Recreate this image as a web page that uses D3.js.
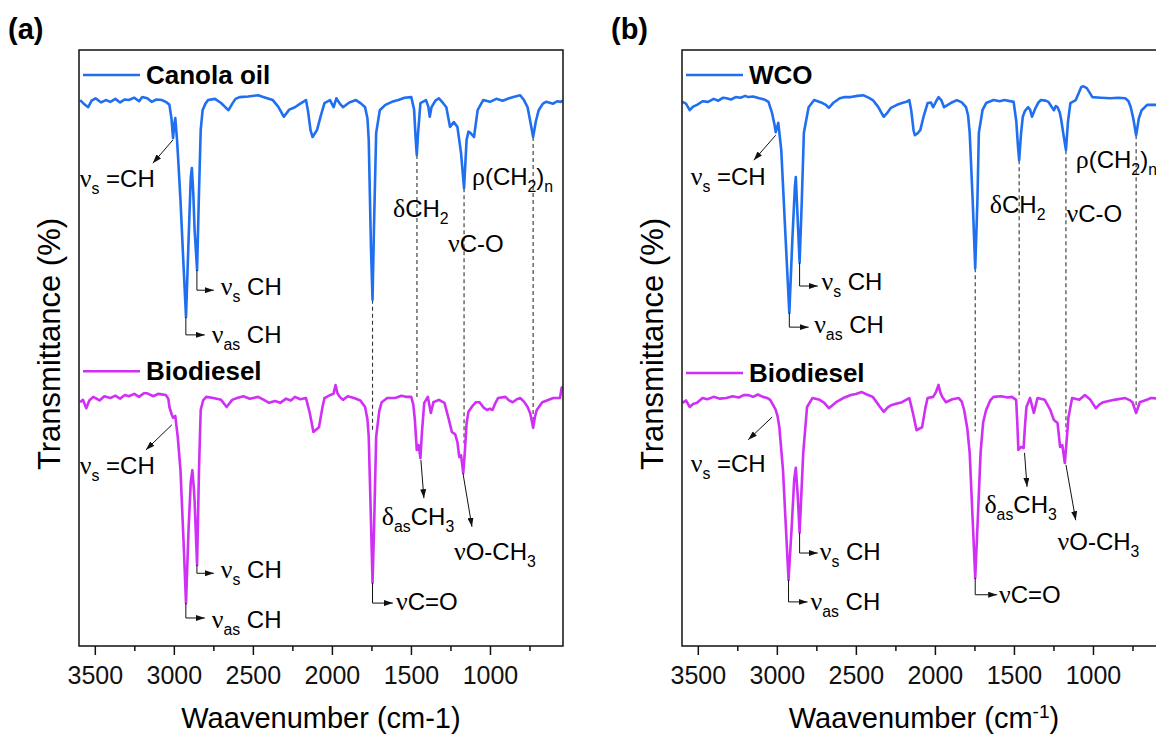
<!DOCTYPE html>
<html>
<head>
<meta charset="utf-8">
<script src="https://cdn.jsdelivr.net/npm/d3@7"></script>
<style>
  body { margin: 0; background: #fff; }
  svg { display: block; font-family: "Liberation Sans", Arial, sans-serif; }
</style>
</head>
<body>
<svg id="chart" width="1156" height="736"></svg>
<script>
// spectra: [wavenumber cm-1, stacked transmittance (arb.)]
const canolaOil = [[3593,91.6],[3570,91.0],[3542,90.4],[3520,91.5],[3495,91.9],[3460,91.2],[3430,91.6],[3402,91.3],[3370,91.8],[3340,91.2],[3310,91.7],[3285,91.6],[3250,92.0],[3220,91.4],[3200,92.1],[3168,91.9],[3140,91.3],[3110,91.7],[3075,91.6],[3045,91.2],[3028,90.8],[3015,88.5],[3005,85.2],[2997,87.5],[2991,88.6],[2980,85],[2970,80.5],[2958,74.8],[2939,64],[2923,55.2],[2907,68],[2893,78.5],[2886,80.2],[2877,76],[2869,70],[2853,63.1],[2841,76],[2830,86.6],[2818,89.9],[2800,91.0],[2783,91.6],[2740,91.8],[2701,91.1],[2670,90.3],[2654,89.9],[2630,91.0],[2610,91.8],[2584,92.1],[2530,92.2],[2467,92.4],[2420,92.0],[2374,91.6],[2340,90.5],[2304,88.8],[2270,90.0],[2234,90.4],[2200,91.0],[2164,91.6],[2152,89.9],[2135,86.5],[2122,85.4],[2094,86.6],[2070,89.0],[2047,91.1],[2012,91.6],[1989,90.4],[1972,91.9],[1950,91.0],[1930,90.4],[1890,91.2],[1848,91.6],[1815,91.0],[1790,90.4],[1775,88.5],[1767,84.9],[1753,67],[1743,58.1],[1734,70],[1720,86.1],[1697,89.9],[1662,90.8],[1620,91.3],[1580,91.6],[1540,92.0],[1498,92.1],[1480,90],[1470,85],[1463,82.4],[1455,86],[1440,91.1],[1405,91.6],[1390,90.5],[1381,88.8],[1370,90.4],[1345,91.5],[1323,91.9],[1300,91.2],[1276,90.4],[1253,87.1],[1229,87.9],[1206,87.1],[1183,82.7],[1164,76.8],[1148,84.9],[1136,86.3],[1124,86.1],[1101,85.4],[1078,89.9],[1043,91.6],[1000,91.3],[960,91.8],[920,91.5],[879,91.9],[840,92.2],[809,92.4],[785,91.6],[762,90.4],[745,88],[727,85.4],[710,88],[692,89.9],[665,91.0],[645,91.3],[600,91.0],[575,91.4],[552,91.3],[540,91.5]];

const biodieselA = [[3593,40.9],[3575,41.3],[3554,39.9],[3535,41.2],[3510,41.8],[3495,41.6],[3470,41.2],[3440,41.9],[3402,41.6],[3370,42.0],[3340,41.5],[3310,42.1],[3285,41.9],[3250,42.3],[3220,41.8],[3190,42.4],[3168,42.4],[3130,41.9],[3100,42.3],[3051,42.1],[3035,41.5],[3028,40.1],[3013,38.8],[3005,38.3],[2991,38.6],[2975,35],[2958,29.5],[2939,17.8],[2923,7.2],[2907,19.5],[2893,27.5],[2883,29.5],[2875,27],[2869,24.5],[2853,13.6],[2841,29.5],[2830,39.6],[2815,41.2],[2795,41.8],[2750,41.6],[2701,41.3],[2666,40.1],[2631,41.3],[2600,41.6],[2560,41.9],[2520,41.5],[2467,41.8],[2430,41.3],[2397,40.8],[2360,41.1],[2327,40.8],[2290,41.5],[2260,41.2],[2234,41.8],[2200,41.4],[2164,41.6],[2140,39.1],[2117,35.9],[2100,36.3],[2082,36.7],[2060,40],[2047,41.6],[2012,42.1],[1990,42.3],[1977,43.8],[1965,42.4],[1950,41.8],[1930,41.3],[1900,41.9],[1860,41.6],[1820,41.2],[1790,40.1],[1775,38],[1767,35.1],[1753,21.1],[1743,10.6],[1734,19.0],[1720,35.1],[1700,39.5],[1685,40.9],[1650,41.6],[1600,41.6],[1560,42.0],[1533,41.8],[1498,41.8],[1485,40.5],[1475,37.9],[1463,32.9],[1451,33.7],[1440,31.5],[1430,36],[1416,40.8],[1393,41.8],[1374,39.1],[1358,40.9],[1323,41.3],[1288,40.8],[1264,38.4],[1241,35.9],[1220,35.5],[1206,34.2],[1194,31.7],[1183,32.0],[1169,29.0],[1158,33],[1148,37.4],[1136,39.3],[1110,40.3],[1089,40.9],[1066,40.9],[1040,40.0],[1019,39.6],[1000,39.8],[984,39.6],[965,40.8],[949,41.6],[902,41.8],[880,41.2],[856,40.9],[830,41.4],[809,41.6],[785,41.0],[762,40.1],[745,39],[727,36.6],[715,38.5],[704,39.6],[669,40.9],[640,41.2],[599,41.6],[557,41.6],[547,43.3],[540,43.5]];

const wcoOil = [[3597,91.3],[3575,91.0],[3551,89.9],[3530,90.5],[3505,90.8],[3470,91.4],[3435,91.3],[3400,91.8],[3370,91.5],[3340,92.0],[3319,91.9],[3290,91.7],[3260,92.1],[3230,92.0],[3200,92.3],[3181,92.1],[3150,92.2],[3111,91.9],[3080,91.7],[3053,91.3],[3030,89.4],[3015,87.5],[3007,86.2],[2991,87.8],[2972,83.2],[2944,68.1],[2921,55.9],[2902,68.1],[2886,77],[2880,78.7],[2868,71.5],[2856,64.3],[2842,74.8],[2829,86.1],[2799,90.4],[2764,91.6],[2720,91.2],[2690,90.8],[2671,90.3],[2640,91.2],[2602,91.9],[2570,92.1],[2532,92.1],[2490,92.3],[2451,92.4],[2420,92.0],[2393,91.6],[2360,90.5],[2324,88.8],[2300,89.5],[2278,90.3],[2240,90.8],[2208,91.1],[2180,91.3],[2162,91.6],[2150,89.9],[2135,86.5],[2127,85.7],[2110,86.0],[2092,86.6],[2070,89],[2046,91.1],[2025,91.2],[2011,90.4],[1990,91.5],[1977,92.1],[1960,91.6],[1942,90.4],[1900,91.1],[1861,91.6],[1830,91.2],[1803,90.4],[1790,89],[1780,86.1],[1761,74.8],[1745,63.4],[1731,74.8],[1722,86.1],[1699,89.9],[1676,91.1],[1629,91.6],[1590,91.4],[1560,91.6],[1502,91.3],[1485,88],[1475,84],[1467,81.5],[1455,86],[1444,88.8],[1430,89.8],[1410,90.4],[1398,90],[1386,88.8],[1363,90.3],[1345,91.2],[1329,91.6],[1300,91.5],[1282,91.3],[1265,90.6],[1247,89.9],[1235,90.6],[1224,90.4],[1210,89.5],[1201,88.3],[1185,85.5],[1171,83.2],[1158,88],[1143,91.1],[1109,91.6],[1090,92.8],[1074,93.8],[1060,93.9],[1039,93.6],[1020,92.8],[1004,92.1],[950,92.0],[889,91.9],[840,92.0],[796,91.9],[775,91.4],[761,90.4],[745,88.5],[727,85.7],[710,88.5],[692,89.9],[657,90.8],[616,90.8],[580,90.8],[540,91.0]];

const biodieselB = [[3597,40.8],[3575,41.2],[3551,40.1],[3530,40.6],[3505,40.8],[3470,41.6],[3440,41.4],[3400,41.8],[3360,41.5],[3319,41.6],[3280,41.9],[3240,41.7],[3210,42.1],[3181,42.1],[3150,41.8],[3120,42.2],[3088,41.8],[3060,41.6],[3042,41.3],[3025,40.5],[3007,39.6],[2995,38.5],[2984,36.7],[2961,29.5],[2942,19.5],[2926,11.1],[2907,19.5],[2890,28],[2880,29.9],[2868,25.3],[2856,19.0],[2833,32.4],[2809,40.1],[2775,41.6],[2729,41.3],[2700,40.8],[2671,39.9],[2625,40.9],[2580,41.6],[2532,42.1],[2500,42.3],[2463,42.6],[2430,42.2],[2393,41.8],[2347,40.1],[2324,39.3],[2300,40.0],[2278,40.4],[2240,40.7],[2208,40.9],[2162,41.6],[2139,39.1],[2116,36.2],[2095,36.5],[2081,36.7],[2060,40],[2046,41.6],[2011,41.8],[1995,42.5],[1977,43.8],[1965,42.5],[1954,41.8],[1930,40.9],[1890,41.4],[1849,41.6],[1830,41.0],[1815,39.6],[1795,36.5],[1780,32.4],[1761,21.1],[1745,11.4],[1729,21.1],[1711,32.4],[1695,37.5],[1676,39.6],[1650,41.2],[1629,41.8],[1580,41.9],[1540,41.7],[1513,41.8],[1486,41.3],[1478,37],[1472,32.9],[1455,33.4],[1439,33.2],[1430,37],[1421,40.1],[1398,41.6],[1374,39.1],[1351,41.6],[1305,41.3],[1270,39.6],[1247,37.9],[1224,37.4],[1208,33.4],[1194,33.7],[1178,30.7],[1165,35],[1155,38.4],[1132,41.6],[1086,41.3],[1051,42.1],[1016,41.3],[982,39.9],[960,40.5],[935,40.9],[866,41.3],[796,41.6],[765,41.2],[750,40.9],[727,39.1],[704,40.9],[660,41.3],[634,41.6],[580,41.5],[540,41.7]];

const xTicks = [3500, 3000, 2500, 2000, 1500, 1000];
const xMinorTicks = [3250, 2750, 2250, 1750, 1250, 750];
const xDomain = [3600, 538];

const BLUE = '#1f6ff0';
const MAGENTA = '#d02ff5';

// peak labels, arrows and guide lines, placed in data units
const panels = [
  {
    tag: '(a)', left: 79, xTitle: 'Waavenumber (cm-1)',
    series: [
      { name: 'Canola oil', data: canolaOil, color: BLUE, legendV: 95.8 },
      { name: 'Biodiesel', data: biodieselA, color: MAGENTA, legendV: 46.1 }
    ],
    labels: [
      ['ν_{s} =CH', 3595, 77.0], ['ν_{s} CH', 2703, 58.9], ['ν_{as} CH', 2760, 50.8],
      ['δCH_{2}', 1614, 72.0], ['νC-O', 1266, 66.1], ['ρ(CH_{2})_{n}', 1114, 77.3],
      ['ν_{s} =CH', 3595, 28.9], ['δ_{as}CH_{3}', 1684, 20.3], ['νO-CH_{3}', 1228, 14.4],
      ['ν_{s} CH', 2703, 11.4], ['ν_{as} CH', 2760, 3.0], ['νC=O', 1595, 6.0]
    ],
    arrows: [
      [[3006, 84.9], [3133, 81.0]],
      [[2854, 63.1], [2854, 59.7], [2747, 59.7]],
      [[2924, 55.2], [2924, 52.2], [2804, 52.2]],
      [[3013, 37.1], [3177, 32.9]],
      [[1437, 31.2], [1418, 24.8]],
      [[1171, 29.0], [1114, 20.0]],
      [[2854, 13.6], [2854, 12.2], [2747, 12.2]],
      [[2924, 7.2], [2924, 4.7], [2804, 4.7]],
      [[1743, 10.6], [1743, 7.2], [1614, 7.2]]
    ],
    guides: [[1743, 58.1, 36], [1462, 82.4, 41.5], [1164, 76.8, 34], [727, 85.4, 37]]
  },
  {
    tag: '(b)', left: 682, xTitle: 'Waavenumber (cm^{-1})',
    series: [
      { name: 'WCO', data: wcoOil, color: BLUE, legendV: 95.8 },
      { name: 'Biodiesel', data: biodieselB, color: MAGENTA, legendV: 45.8 }
    ],
    labels: [
      ['ν_{s} =CH', 3545, 77.3], ['ν_{s} CH', 2718, 59.7], ['ν_{as} CH', 2764, 52.5],
      ['δCH_{2}', 1653, 72.7], ['νC-O', 1167, 71.1], ['ρ(CH_{2})_{n}', 1109, 80.2],
      ['ν_{s} =CH', 3545, 29.2], ['δ_{as}CH_{3}', 1687, 22.3], ['νO-CH_{3}', 1224, 16.1],
      ['ν_{s} CH', 2729, 14.4], ['ν_{as} CH', 2787, 6.0], ['νC=O', 1595, 7.2]
    ],
    arrows: [
      [[3007, 85.7], [3146, 81.5]],
      [[2856, 64.3], [2856, 60.4], [2741, 60.4]],
      [[2921, 55.9], [2921, 53.5], [2799, 53.5]],
      [[3030, 38.4], [3181, 34.6]],
      [[1433, 32.4], [1417, 26.7]],
      [[1171, 30.4], [1109, 21.1]],
      [[2856, 19.0], [2856, 15.6], [2741, 15.6]],
      [[2926, 11.1], [2926, 7.4], [2806, 7.4]],
      [[1745, 11.4], [1745, 8.6], [1606, 8.6]]
    ],
    guides: [[1745, 63.4, 36], [1467, 81.5, 41.5], [1171, 83.2, 36], [727, 85.7, 40]]
  }
];

const TOP = 50, PLOT_W = 484, PLOT_H = 596;
const svg = d3.select('#chart');

// arrow head
svg.append('defs').append('marker')
  .attr('id', 'head')
  .attr('viewBox', '0 0 9 6')
  .attr('refX', 9).attr('refY', 3)
  .attr('markerWidth', 9).attr('markerHeight', 6)
  .attr('markerUnits', 'userSpaceOnUse')
  .attr('orient', 'auto')
  .append('path').attr('d', 'M0,0L9,3L0,6Z').attr('fill', '#111');

// text with _{sub} and ^{sup} parts, greek letters in a serif face
function richText(sel, str) {
  const parts = str.split(/(_\{[^}]*\}|\^\{[^}]*\}|[α-ω])/).filter(s => s.length);
  let shift = 0;
  parts.forEach(p => {
    let target = 0, txt = p, small = false;
    if (p.startsWith('_{')) { target = 7; txt = p.slice(2, -1); small = true; }
    if (p.startsWith('^{')) { target = -10; txt = p.slice(2, -1); small = true; }
    const t = sel.append('tspan').attr('dy', target - shift).text(txt);
    if (small) t.attr('font-size', '0.66em');
    if (/^[α-ω]$/.test(p)) t.attr('font-family', '"Liberation Serif", serif').attr('font-size', '1.08em');
    shift = target;
  });
}

panels.forEach(p => {
  const x = d3.scaleLinear().domain(xDomain).range([p.left, p.left + PLOT_W]);
  const y = d3.scaleLinear().domain([0, 100]).range([TOP + PLOT_H, TOP]);
  const g = svg.append('g');

  const clipId = 'clip' + p.left;
  svg.select('defs').append('clipPath').attr('id', clipId)
    .append('rect').attr('x', p.left).attr('y', TOP).attr('width', PLOT_W).attr('height', PLOT_H);

  // dashed guides between matching bands
  g.selectAll('.guide').data(p.guides).enter().append('line')
    .attr('x1', d => x(d[0])).attr('x2', d => x(d[0]))
    .attr('y1', d => y(d[1])).attr('y2', d => y(d[2]))
    .attr('stroke', '#333').attr('stroke-width', 1.1)
    .attr('stroke-dasharray', '4,3');

  // spectra
  const line = d3.line().x(d => x(d[0])).y(d => y(d[1]));
  g.append('g').attr('clip-path', `url(#${clipId})`)
    .selectAll('path').data(p.series).enter().append('path')
    .attr('d', d => line(d.data))
    .attr('fill', 'none')
    .attr('stroke', d => d.color)
    .attr('stroke-width', 2.6)
    .attr('stroke-linejoin', 'round');

  // legends
  p.series.forEach(s => {
    const ly = y(s.legendV);
    g.append('line')
      .attr('x1', p.left + 4).attr('x2', p.left + 61)
      .attr('y1', ly).attr('y2', ly)
      .attr('stroke', s.color).attr('stroke-width', 2.6);
    g.append('text')
      .attr('x', p.left + 67).attr('y', ly + 9)
      .attr('font-size', 26).attr('font-weight', 'bold')
      .text(s.name);
  });

  // annotation arrows
  const aline = d3.line().x(d => x(d[0])).y(d => y(d[1]));
  g.selectAll('.arrow').data(p.arrows).enter().append('path')
    .attr('d', aline)
    .attr('fill', 'none').attr('stroke', '#111').attr('stroke-width', 1)
    .attr('marker-end', 'url(#head)');

  // annotation labels
  g.selectAll('.lab').data(p.labels).enter().append('text')
    .attr('x', d => x(d[1])).attr('y', d => y(d[2]))
    .attr('font-size', 24)
    .each(function(d) { richText(d3.select(this), d[0]); });

  // frame
  g.append('rect')
    .attr('x', p.left).attr('y', TOP).attr('width', PLOT_W).attr('height', PLOT_H)
    .attr('fill', 'none').attr('stroke', '#111').attr('stroke-width', 1.5);

  // bottom axis
  const axis = g.append('g').attr('transform', `translate(0,${TOP + PLOT_H})`)
    .call(d3.axisBottom(x).tickValues(xTicks).tickFormat(d3.format('d'))
      .tickSize(9).tickSizeOuter(0).tickPadding(11));
  axis.select('.domain').remove();
  axis.selectAll('line').attr('stroke', '#111').attr('stroke-width', 1.5);
  axis.selectAll('text').attr('font-size', 25).attr('fill', '#111')
    .attr('font-family', '"Liberation Sans", Arial, sans-serif');

  const minor = g.append('g').attr('transform', `translate(0,${TOP + PLOT_H})`)
    .call(d3.axisBottom(x).tickValues(xMinorTicks).tickSize(5).tickSizeOuter(0).tickFormat(''));
  minor.select('.domain').remove();
  minor.selectAll('line').attr('stroke', '#111').attr('stroke-width', 1.5);

  // titles
  g.append('text')
    .attr('x', p.left + PLOT_W / 2).attr('y', 728)
    .attr('text-anchor', 'middle').attr('font-size', 29)
    .each(function() { richText(d3.select(this), p.xTitle); });

  g.append('text')
    .attr('transform', `translate(${p.left - 19},${TOP + PLOT_H / 2 - 4}) rotate(-90)`)
    .attr('text-anchor', 'middle').attr('font-size', 31)
    .text('Transmittance (%)');

  svg.append('text')
    .attr('x', p.left - 71).attr('y', 39)
    .attr('font-size', 29).attr('font-weight', 'bold')
    .text(p.tag);
});
</script>
</body>
</html>
